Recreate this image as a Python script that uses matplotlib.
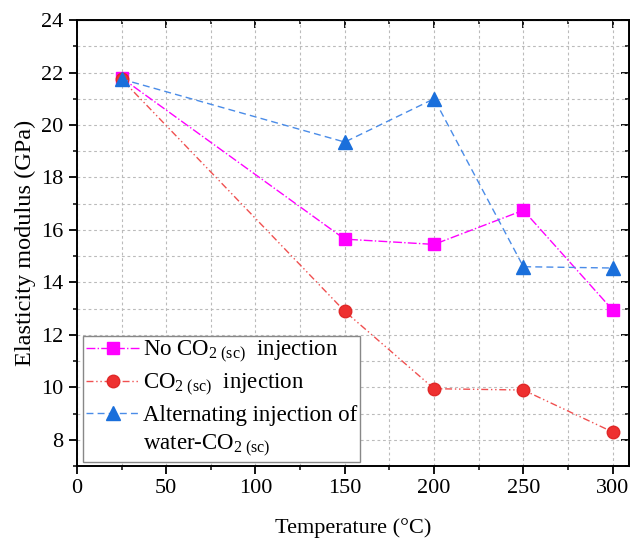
import matplotlib
matplotlib.use("Agg")
import matplotlib.pyplot as plt
from matplotlib.ticker import MultipleLocator

plt.rcParams['font.family'] = ['Liberation Serif', 'DejaVu Serif']
plt.rcParams['mathtext.fontset'] = 'custom'
plt.rcParams['mathtext.rm'] = 'Liberation Serif'
plt.rcParams['mathtext.it'] = 'Liberation Serif:italic'

temps = [25, 150, 200, 250, 300]
no_co2 = [21.8, 15.65, 15.45, 16.75, 12.95]
co2 = [21.75, 12.9, 9.95, 9.9, 8.3]
alternating = [21.75, 19.35, 21.0, 14.6, 14.55]

labels = [r'No CO$_{2\ \mathrm{(sc)}}$  injection',
          r'CO$_{2\ \mathrm{(sc)}}$  injection',
          'Alternating injection of',
          r'water-CO$_{2\ \mathrm{(sc)}}$']

fig = plt.figure(figsize=(6.3, 5.42), dpi=100)
ax = fig.add_axes([0.122, 0.140, 0.876, 0.823])

ax.plot(temps, no_co2, linestyle='-.', color='#FF00FF', lw=1.0,
        marker='s', markersize=8, markeredgecolor='#FF00FF', label=labels[0])
ax.plot(temps, co2, linestyle=(0, (5, 2, 1, 2, 1, 2)), color='#F05050', lw=1.0,
        marker='o', markersize=9, markerfacecolor='#EE3030', markeredgecolor='#E02828',
        label=labels[1])
ax.plot(temps, alternating, linestyle=(0, (5, 3)), color='#4A8CE8', lw=1.0,
        marker='^', markersize=10, markerfacecolor='#1A6FDB', markeredgecolor='#1A6FDB',
        label=labels[2])
# second line of the third legend label, no handle
ax.plot([], [], linestyle='none', label=labels[3])

ax.set_xlim(0, 309)
ax.set_ylim(7, 24)
ax.xaxis.set_major_locator(MultipleLocator(50))
ax.xaxis.set_minor_locator(MultipleLocator(25))
ax.yaxis.set_major_locator(MultipleLocator(2))
ax.yaxis.set_minor_locator(MultipleLocator(1))

ax.grid(which='both', color='#BBBBBB', linestyle=(0, (2.5, 2.5)), lw=0.8)
ax.set_axisbelow(True)

ax.tick_params(which='major', direction='out', length=6, width=1.3, labelsize=16)
ax.tick_params(which='minor', direction='out', length=3, width=1.1)
for s in ax.spines.values():
    s.set_linewidth(1.4)

top = ax.secondary_xaxis('top')
top.xaxis.set_major_locator(MultipleLocator(50))
top.xaxis.set_minor_locator(MultipleLocator(25))
top.tick_params(which='major', direction='in', length=6, width=1.3, labeltop=False)
top.tick_params(which='minor', direction='in', length=3, width=1.1)
right = ax.secondary_yaxis('right')
right.yaxis.set_major_locator(MultipleLocator(2))
right.yaxis.set_minor_locator(MultipleLocator(1))
right.tick_params(which='major', direction='in', length=6, width=1.3, labelright=False)
right.tick_params(which='minor', direction='in', length=3, width=1.1)

ax.set_xlabel('Temperature (°C)', fontsize=16, labelpad=14)
ax.set_ylabel('Elasticity modulus (GPa)', fontsize=17.5, labelpad=4)

leg = ax.legend(loc='lower left', bbox_to_anchor=(0.011, 0.009), borderaxespad=0,
                fontsize=16.5, fancybox=False, framealpha=1, edgecolor='#888888',
                handlelength=2.3, handletextpad=0.15, labelspacing=0.3,
                borderpad=0.15)
leg.get_frame().set_linewidth(1.0)

fig.savefig('out.png', dpi=100)
